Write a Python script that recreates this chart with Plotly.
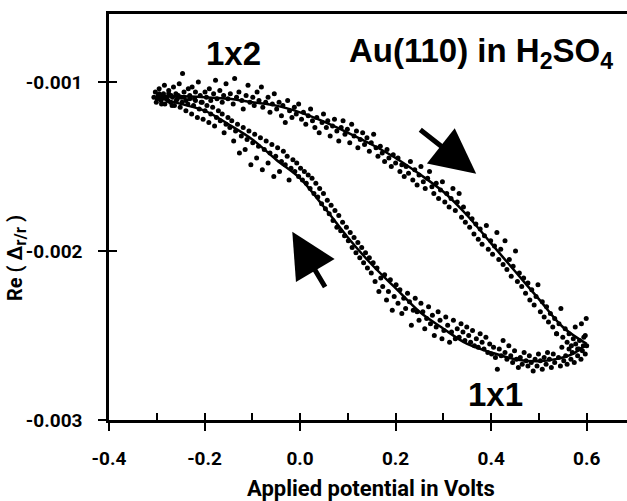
import plotly.graph_objects as go

# ---- data ----
x_ticks = [-0.4, -0.2, 0.0, 0.2, 0.4, 0.6]
x_ticklabels = ["-0.4", "-0.2", "0.0", "0.2", "0.4", "0.6"]
x_minor = [-0.4, -0.3, -0.2, -0.1, 0.0, 0.1, 0.2, 0.3, 0.4, 0.5, 0.6]
y_ticks = [-0.003, -0.002, -0.001]
y_ticklabels = ["-0.003", "-0.002", "-0.001"]

# fitted curve, forward sweep (1x2 -> 1x1)
fwd_x = [-0.302, -0.25, -0.20, -0.15, -0.10, -0.05, 0.00, 0.05, 0.10, 0.15, 0.20,
         0.25, 0.30, 0.35, 0.40, 0.45, 0.50, 0.55, 0.60]
fwd_y = [-0.00109, -0.001085, -0.00109, -0.0011, -0.00112, -0.00114, -0.00118,
         -0.001235, -0.0013, -0.00137, -0.00145, -0.001545, -0.00165, -0.00179,
         -0.001955, -0.00212, -0.002285, -0.00245, -0.00255]
# fitted curve, reverse sweep (1x1 -> 1x2)
rev_x = [0.60, 0.57, 0.535, 0.50, 0.45, 0.40, 0.35, 0.30, 0.25, 0.20, 0.15, 0.10,
         0.05, 0.00, -0.05, -0.10, -0.15, -0.20, -0.25, -0.302]
rev_y = [-0.00255, -0.00261, -0.00264, -0.002653, -0.00264, -0.0026, -0.00255,
         -0.00246, -0.00236, -0.00222, -0.00208, -0.00192, -0.00174, -0.00157,
         -0.00146, -0.00134, -0.00125, -0.00117, -0.00113, -0.00109]

# measured points, forward sweep (V, Re)
fwd_pts = [
    (-0.306, -0.00109), (-0.303, -0.00106), (-0.301, -0.00112), (-0.297, -0.00108), (-0.295, -0.00104),
    (-0.292, -0.00110), (-0.290, -0.00113), (-0.286, -0.00107), (-0.284, -0.00102), (-0.281, -0.00109),
    (-0.277, -0.00111), (-0.275, -0.00105), (-0.270, -0.00108), (-0.268, -0.00114), (-0.265, -0.00103),
    (-0.260, -0.00107), (-0.257, -0.00110), (-0.253, -0.00101), (-0.249, -0.00109), (-0.246, -0.00095),
    (-0.243, -0.00106), (-0.239, -0.00111), (-0.234, -0.00104), (-0.231, -0.00108), (-0.226, -0.00103),
    (-0.221, -0.00110), (-0.219, -0.00106), (-0.213, -0.00100), (-0.209, -0.00108), (-0.205, -0.00112),
    (-0.199, -0.00106), (-0.196, -0.00109), (-0.190, -0.00104), (-0.187, -0.00111), (-0.181, -0.00107),
    (-0.177, -0.00099), (-0.174, -0.00110), (-0.168, -0.00105), (-0.163, -0.00112), (-0.160, -0.00108),
    (-0.155, -0.00101), (-0.151, -0.00110), (-0.146, -0.00107), (-0.140, -0.00113), (-0.137, -0.00098),
    (-0.133, -0.00109), (-0.128, -0.00106), (-0.122, -0.00111), (-0.119, -0.00116), (-0.113, -0.00108),
    (-0.109, -0.00102), (-0.105, -0.00112), (-0.099, -0.00109), (-0.096, -0.00114), (-0.090, -0.00106),
    (-0.086, -0.00111), (-0.081, -0.00103), (-0.078, -0.00115), (-0.072, -0.00112), (-0.067, -0.00109),
    (-0.063, -0.00118), (-0.058, -0.00113), (-0.054, -0.00107), (-0.049, -0.00116), (-0.044, -0.00112),
    (-0.039, -0.00120), (-0.036, -0.00114), (-0.031, -0.00124), (-0.026, -0.00111), (-0.022, -0.00117),
    (-0.017, -0.00121), (-0.012, -0.00115), (-0.008, -0.00119), (-0.003, -0.00113), (0.003, -0.00122),
    (0.007, -0.00118), (0.012, -0.00125), (0.017, -0.00120), (0.022, -0.00116), (0.026, -0.00123),
    (0.031, -0.00127), (0.035, -0.00121), (0.040, -0.00130), (0.046, -0.00124), (0.049, -0.00119),
    (0.055, -0.00127), (0.058, -0.00123), (0.063, -0.00132), (0.068, -0.00126), (0.072, -0.00122),
    (0.077, -0.00129), (0.081, -0.00135), (0.086, -0.00127), (0.090, -0.00123), (0.094, -0.00131),
    (0.099, -0.00128), (0.104, -0.00136), (0.108, -0.00125), (0.113, -0.00132), (0.118, -0.00129),
    (0.121, -0.00139), (0.126, -0.00134), (0.131, -0.00130), (0.135, -0.00137), (0.140, -0.00133),
    (0.145, -0.00141), (0.149, -0.00136), (0.154, -0.00131), (0.159, -0.00139), (0.163, -0.00144),
    (0.168, -0.00138), (0.172, -0.00142), (0.177, -0.00147), (0.182, -0.00140), (0.186, -0.00145),
    (0.191, -0.00150), (0.195, -0.00143), (0.200, -0.00148), (0.205, -0.00145), (0.209, -0.00153),
    (0.213, -0.00149), (0.218, -0.00156), (0.222, -0.00150), (0.227, -0.00154), (0.231, -0.00147),
    (0.236, -0.00158), (0.240, -0.00152), (0.245, -0.00161), (0.249, -0.00155), (0.253, -0.00150),
    (0.258, -0.00159), (0.262, -0.00163), (0.267, -0.00157), (0.271, -0.00153), (0.276, -0.00162),
    (0.280, -0.00166), (0.285, -0.00160), (0.290, -0.00169), (0.294, -0.00164), (0.298, -0.00159),
    (0.303, -0.00171), (0.307, -0.00166), (0.312, -0.00174), (0.316, -0.00169), (0.320, -0.00163),
    (0.325, -0.00176), (0.329, -0.00171), (0.333, -0.00166), (0.338, -0.00180), (0.342, -0.00174),
    (0.346, -0.00183), (0.351, -0.00178), (0.355, -0.00186), (0.360, -0.00181), (0.364, -0.00190),
    (0.368, -0.00184), (0.373, -0.00193), (0.377, -0.00187), (0.381, -0.00196), (0.386, -0.00191),
    (0.390, -0.00185), (0.394, -0.00199), (0.399, -0.00194), (0.403, -0.00202), (0.407, -0.00197),
    (0.412, -0.00189), (0.416, -0.00205), (0.420, -0.00199), (0.425, -0.00208), (0.429, -0.00194),
    (0.433, -0.00211), (0.438, -0.00205), (0.442, -0.00215), (0.446, -0.00209), (0.451, -0.00200),
    (0.455, -0.00218), (0.459, -0.00213), (0.464, -0.00221), (0.468, -0.00216), (0.472, -0.00225),
    (0.477, -0.00219), (0.481, -0.00229), (0.485, -0.00223), (0.490, -0.00232), (0.494, -0.00227),
    (0.498, -0.00220), (0.503, -0.00236), (0.507, -0.00230), (0.511, -0.00239), (0.516, -0.00233),
    (0.520, -0.00242), (0.524, -0.00237), (0.529, -0.00245), (0.533, -0.00240), (0.537, -0.00249),
    (0.542, -0.00243), (0.546, -0.00234), (0.550, -0.00251), (0.555, -0.00246), (0.559, -0.00254),
    (0.563, -0.00249), (0.568, -0.00256), (0.572, -0.00252), (0.576, -0.00245), (0.581, -0.00258),
    (0.585, -0.00253), (0.589, -0.00243), (0.593, -0.00256), (0.597, -0.00250), (0.599, -0.00240),
]

# measured points, reverse sweep (V, Re)
rev_pts = [
    (0.600, -0.00256), (0.597, -0.00261), (0.594, -0.00251), (0.591, -0.00259), (0.588, -0.00264),
    (0.584, -0.00258), (0.581, -0.00262), (0.577, -0.00255), (0.574, -0.00266), (0.570, -0.00260),
    (0.567, -0.00264), (0.563, -0.00258), (0.559, -0.00267), (0.556, -0.00262), (0.552, -0.00265),
    (0.548, -0.00257), (0.545, -0.00268), (0.541, -0.00263), (0.537, -0.00249), (0.533, -0.00266),
    (0.530, -0.00261), (0.526, -0.00269), (0.522, -0.00264), (0.518, -0.00260), (0.515, -0.00267),
    (0.511, -0.00263), (0.507, -0.00270), (0.503, -0.00265), (0.499, -0.00261), (0.496, -0.00268),
    (0.492, -0.00264), (0.488, -0.00271), (0.484, -0.00266), (0.480, -0.00262), (0.477, -0.00268),
    (0.473, -0.00265), (0.469, -0.00260), (0.465, -0.00267), (0.461, -0.00263), (0.457, -0.00269),
    (0.453, -0.00264), (0.449, -0.00259), (0.445, -0.00266), (0.441, -0.00262), (0.437, -0.00256),
    (0.433, -0.00264), (0.429, -0.00260), (0.425, -0.00253), (0.421, -0.00262), (0.417, -0.00258),
    (0.413, -0.00270), (0.409, -0.00263), (0.405, -0.00257), (0.401, -0.00261), (0.397, -0.00255),
    (0.393, -0.00260), (0.389, -0.00251), (0.385, -0.00258), (0.381, -0.00254), (0.377, -0.00249),
    (0.373, -0.00257), (0.369, -0.00252), (0.365, -0.00256), (0.361, -0.00247), (0.357, -0.00254),
    (0.353, -0.00250), (0.349, -0.00245), (0.345, -0.00253), (0.341, -0.00248), (0.337, -0.00243),
    (0.333, -0.00251), (0.329, -0.00246), (0.325, -0.00252), (0.321, -0.00241), (0.317, -0.00248),
    (0.313, -0.00254), (0.309, -0.00244), (0.305, -0.00239), (0.301, -0.00247), (0.297, -0.00252),
    (0.293, -0.00241), (0.289, -0.00236), (0.285, -0.00245), (0.281, -0.00250), (0.277, -0.00238),
    (0.273, -0.00243), (0.269, -0.00233), (0.265, -0.00240), (0.261, -0.00246), (0.257, -0.00236),
    (0.253, -0.00231), (0.249, -0.00241), (0.245, -0.00236), (0.241, -0.00228), (0.237, -0.00235),
    (0.233, -0.00244), (0.229, -0.00230), (0.225, -0.00225), (0.221, -0.00234), (0.217, -0.00228),
    (0.213, -0.00237), (0.209, -0.00223), (0.205, -0.00231), (0.201, -0.00220), (0.197, -0.00227),
    (0.193, -0.00235), (0.189, -0.00217), (0.185, -0.00224), (0.181, -0.00229), (0.177, -0.00214),
    (0.173, -0.00221), (0.169, -0.00216), (0.165, -0.00224), (0.161, -0.00210), (0.157, -0.00218),
    (0.153, -0.00207), (0.149, -0.00213), (0.145, -0.00204), (0.141, -0.00210), (0.137, -0.00201),
    (0.133, -0.00207), (0.129, -0.00198), (0.125, -0.00204), (0.121, -0.00195), (0.117, -0.00201),
    (0.113, -0.00192), (0.109, -0.00198), (0.105, -0.00189), (0.101, -0.00194), (0.097, -0.00186),
    (0.093, -0.00191), (0.089, -0.00183), (0.085, -0.00188), (0.081, -0.00179), (0.077, -0.00186),
    (0.073, -0.00176), (0.069, -0.00182), (0.065, -0.00173), (0.061, -0.00178), (0.057, -0.00170),
    (0.053, -0.00175), (0.049, -0.00166), (0.045, -0.00172), (0.041, -0.00163), (0.037, -0.00168),
    (0.033, -0.00160), (0.029, -0.00166), (0.025, -0.00157), (0.021, -0.00163), (0.017, -0.00155),
    (0.013, -0.00160), (0.009, -0.00153), (0.005, -0.00158), (0.001, -0.00151), (-0.003, -0.00156),
    (-0.007, -0.00148), (-0.011, -0.00153), (-0.015, -0.00146), (-0.019, -0.00151), (-0.023, -0.00158),
    (-0.027, -0.00144), (-0.031, -0.00149), (-0.035, -0.00141), (-0.039, -0.00147), (-0.043, -0.00153),
    (-0.047, -0.00139), (-0.051, -0.00144), (-0.055, -0.00156), (-0.059, -0.00137), (-0.063, -0.00142),
    (-0.067, -0.00148), (-0.071, -0.00135), (-0.075, -0.00140), (-0.079, -0.00152), (-0.083, -0.00133),
    (-0.087, -0.00138), (-0.091, -0.00145), (-0.095, -0.00131), (-0.099, -0.00136), (-0.103, -0.00149),
    (-0.107, -0.00129), (-0.111, -0.00134), (-0.115, -0.00140), (-0.119, -0.00127), (-0.123, -0.00132),
    (-0.127, -0.00142), (-0.131, -0.00125), (-0.135, -0.00129), (-0.139, -0.00135), (-0.143, -0.00123),
    (-0.147, -0.00127), (-0.151, -0.00121), (-0.155, -0.00125), (-0.159, -0.00130), (-0.163, -0.00119),
    (-0.167, -0.00123), (-0.171, -0.00117), (-0.175, -0.00121), (-0.179, -0.00126), (-0.183, -0.00115),
    (-0.187, -0.00119), (-0.191, -0.00124), (-0.195, -0.00114), (-0.199, -0.00117), (-0.203, -0.00122),
    (-0.207, -0.00112), (-0.211, -0.00116), (-0.215, -0.00121), (-0.219, -0.00111), (-0.223, -0.00114),
    (-0.227, -0.00119), (-0.231, -0.00110), (-0.235, -0.00113), (-0.239, -0.00117), (-0.243, -0.00109),
    (-0.247, -0.00112), (-0.251, -0.00115), (-0.255, -0.00108), (-0.259, -0.00111), (-0.263, -0.00114),
    (-0.267, -0.00109), (-0.271, -0.00112), (-0.275, -0.00107), (-0.279, -0.00110), (-0.283, -0.00113),
    (-0.287, -0.00108), (-0.291, -0.00111), (-0.295, -0.00107), (-0.299, -0.00110),
]

# direction arrows (tail -> head) in data units
arrow_fwd = dict(tail=(0.2485, -0.001276), head=(0.3687, -0.001543))
arrow_rev = dict(tail=(0.0543, -0.002222), head=(-0.0163, -0.001887))

X_RANGE = [-0.4, 0.6844]
Y_RANGE = [-0.003, -0.000598]

FONT = "Roboto"
bold = lambda s: "<b>" + s + "</b>"

fig = go.Figure()
for pts in (fwd_pts, rev_pts):
    fig.add_trace(go.Scatter(x=[p[0] for p in pts], y=[p[1] for p in pts], mode="markers",
                             marker=dict(color="black", size=5, line=dict(width=0)), showlegend=False))
fig.add_trace(go.Scatter(x=fwd_x, y=fwd_y, mode="lines",
                         line=dict(color="black", width=2.5, shape="spline"), showlegend=False))
fig.add_trace(go.Scatter(x=rev_x, y=rev_y, mode="lines",
                         line=dict(color="black", width=2.5, shape="spline"), showlegend=False))
# helper (empty) trace so that the overlay axes carrying inside ticks exist
fig.add_trace(go.Scatter(x=[None], y=[None], xaxis="x2", yaxis="y2", showlegend=False, hoverinfo="skip"))

fig.update_layout(
    width=627, height=501,
    margin=dict(l=109, r=0, t=14, b=81),
    paper_bgcolor="white", plot_bgcolor="white",
    xaxis=dict(range=X_RANGE, tickvals=x_ticks, ticktext=[bold(t) for t in x_ticklabels],
               ticks="outside", ticklen=8, tickwidth=2, tickcolor="black",
               ticklabelstandoff=11,
               showline=True, linecolor="black", linewidth=2.5, mirror=True,
               showgrid=False, zeroline=False,
               tickfont=dict(family=FONT, size=19, color="black", weight="bold")),
    yaxis=dict(range=Y_RANGE, tickvals=y_ticks, ticktext=[bold(t) for t in y_ticklabels],
               ticks="outside", ticklen=8, tickwidth=2, tickcolor="black",
               ticklabelstandoff=12,
               showline=True, linecolor="black", linewidth=2.5,
               showgrid=False, zeroline=False,
               tickfont=dict(family=FONT, size=19, color="black", weight="bold")),
    xaxis2=dict(range=X_RANGE, overlaying="x", anchor="y2", side="bottom",
                tickvals=x_minor, ticks="inside", ticklen=7, tickwidth=2, tickcolor="black",
                showticklabels=False, showline=False, showgrid=False, zeroline=False),
    yaxis2=dict(range=Y_RANGE, overlaying="y", anchor="x2", side="left",
                tickvals=y_ticks, ticks="inside", ticklen=8, tickwidth=2, tickcolor="black",
                showticklabels=False, showline=False, showgrid=False, zeroline=False),
)

big = dict(family="Liberation Sans", size=33, color="black")
fig.add_annotation(x=-0.1404, y=-0.00083, text=bold("1x2"), showarrow=False, font=big,
                   xanchor="center", yanchor="middle")
fig.add_annotation(x=0.0982, y=-0.00083, text=bold("Au(110) in H<sub>2</sub>SO<sub>4</sub>"),
                   showarrow=False, font=big, xanchor="left", yanchor="middle")
fig.add_annotation(x=0.4101, y=-0.002848, text=bold("1x1"), showarrow=False, font=big,
                   xanchor="center", yanchor="middle")

for a in (arrow_fwd, arrow_rev):
    fig.add_annotation(x=a["head"][0], y=a["head"][1], ax=a["tail"][0], ay=a["tail"][1],
                       xref="x", yref="y", axref="x", ayref="y", text="",
                       showarrow=True, arrowhead=2, arrowsize=1.8, arrowwidth=5, arrowcolor="black")

fig.add_annotation(xref="paper", yref="paper", x=(371 - 109) / 518, y=(420 - 488) / 406,
                   text=bold("Applied potential in Volts"), showarrow=False,
                   font=dict(family=FONT, size=22, color="black"),
                   xanchor="center", yanchor="middle")
fig.add_annotation(xref="paper", yref="paper", x=(16 - 109) / 518, y=(420 - 258) / 406,
                   text=bold("Re ( Δ<sub><span style='font-size:17px'>r/r</span></sub> )"),
                   textangle=-90, showarrow=False,
                   font=dict(family=FONT, size=20, color="black"),
                   xanchor="center", yanchor="middle")

fig.write_html("out.html")
